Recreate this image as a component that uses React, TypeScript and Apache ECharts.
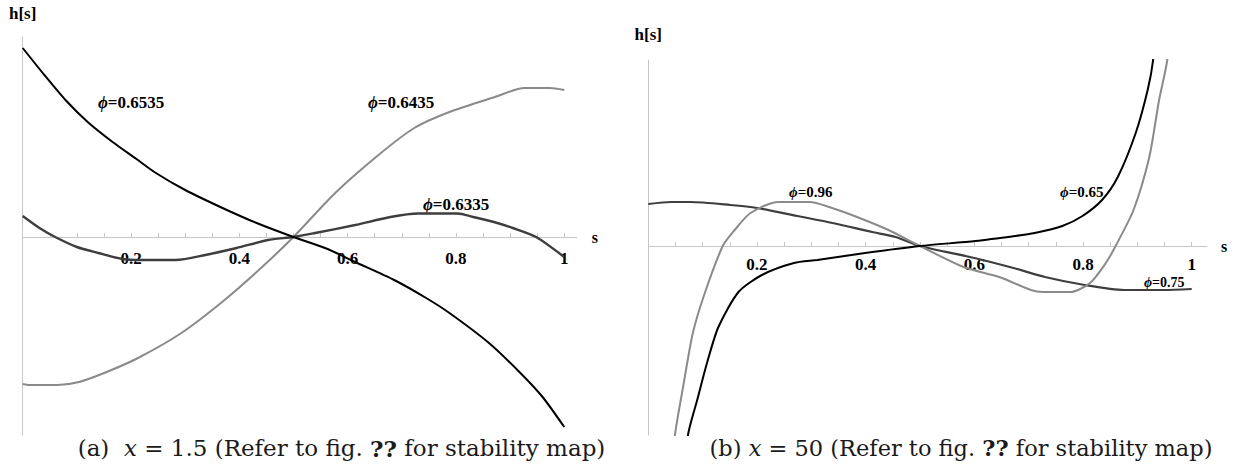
import React, { useEffect, useRef } from "react";
import * as echarts from "echarts";

// ---------- panel (a): x = 1.5 ----------
const sA1 = [0, 0.04, 0.079, 0.12, 0.166, 0.21, 0.246, 0.3, 0.373, 0.432, 0.5, 0.563, 0.614, 0.686, 0.745, 0.788, 0.861, 0.919, 0.96, 1.0];
const hA1 = [1.89, 1.62, 1.37, 1.15, 0.95, 0.78, 0.64, 0.47, 0.28, 0.14, 0, -0.12, -0.25, -0.43, -0.61, -0.76, -1.06, -1.36, -1.6, -1.9]; // phi = 0.6535

const sA2 = [0, 0.013, 0.064, 0.104, 0.155, 0.213, 0.293, 0.366, 0.432, 0.5, 0.577, 0.657, 0.723, 0.788, 0.872, 0.926, 0.974, 1.0];
const hA2 = [-1.47, -1.48, -1.48, -1.45, -1.35, -1.21, -0.96, -0.66, -0.35, 0, 0.44, 0.82, 1.09, 1.25, 1.4, 1.49, 1.49, 1.47]; // phi = 0.6435

const sA3 = [0, 0.031, 0.06, 0.1, 0.14, 0.184, 0.22, 0.282, 0.337, 0.395, 0.453, 0.5, 0.54, 0.614, 0.679, 0.73, 0.803, 0.832, 0.87, 0.905, 0.948, 1.0];
const hA3 = [0.21, 0.09, 0.0, -0.1, -0.16, -0.22, -0.23, -0.23, -0.18, -0.11, -0.03, 0, 0.04, 0.12, 0.2, 0.235, 0.235, 0.2, 0.15, 0.09, 0, -0.2]; // phi = 0.6335

// ---------- panel (b): x = 50 ----------
const sB1 = [0.065, 0.073, 0.09, 0.108, 0.129, 0.166, 0.209, 0.268, 0.311, 0.399, 0.5, 0.602, 0.675, 0.711, 0.762, 0.799, 0.835, 0.864, 0.897, 0.919, 0.929, 0.937];
const hB1 = [-2.4, -1.89, -1.54, -1.17, -0.81, -0.46, -0.29, -0.17, -0.14, -0.07, 0, 0.05, 0.1, 0.13, 0.2, 0.3, 0.46, 0.69, 1.13, 1.56, 1.86, 2.4]; // phi = 0.65

const sB2 = [0.04, 0.049, 0.064, 0.082, 0.104, 0.137, 0.159, 0.188, 0.239, 0.297, 0.333, 0.384, 0.442, 0.5, 0.58, 0.646, 0.704, 0.726, 0.777, 0.813, 0.842, 0.86, 0.893, 0.922, 0.94, 0.955, 0.962];
const hB2 = [-2.4, -1.89, -1.41, -0.87, -0.47, 0, 0.16, 0.33, 0.44, 0.44, 0.39, 0.29, 0.16, 0, -0.21, -0.31, -0.44, -0.46, -0.46, -0.37, -0.17, 0, 0.36, 0.89, 1.46, 1.86, 2.4]; // phi = 0.96

const sB3 = [0, 0.042, 0.078, 0.151, 0.2, 0.274, 0.339, 0.412, 0.455, 0.5, 0.6, 0.672, 0.73, 0.803, 0.875, 0.948, 1.0];
const hB3 = [0.42, 0.44, 0.44, 0.41, 0.38, 0.3, 0.23, 0.14, 0.09, 0, -0.12, -0.22, -0.31, -0.39, -0.44, -0.44, -0.43]; // phi = 0.75

// ---------- axes ----------
const xTickValues = [0, 0.05, 0.1, 0.15, 0.2, 0.25, 0.3, 0.35, 0.4, 0.45, 0.5, 0.55, 0.6, 0.65, 0.7, 0.75, 0.8, 0.85, 0.9, 0.95, 1];
const xLabelValues = [0.2, 0.4, 0.6, 0.8, 1];
const xLabelTexts = ["0.2", "0.4", "0.6", "0.8", "1"];

const BLACK = "#000000";
const LIGHT = "#8a8a8a";
const DARK = "#3e3e3e";
const AXIS = "#c6c6c6";
const CAPTION_INK = "#1a1a1a";
const BOLD_SERIF = "'Liberation Serif', 'Times New Roman', serif";
const CAPTION_FONT = "'DejaVu Serif', serif";

type Panel = { left: number; top: number; width: number; height: number; xMax: number; yMin: number; yMax: number };

const PANEL_A: Panel = { left: 22.7, top: 37, width: 554, height: 398, xMax: 1.023, yMin: -1.98, yMax: 2.0 };
const PANEL_B: Panel = { left: 648.3, top: 60, width: 558.6, height: 375, xMax: 1.028, yMin: -1.89, yMax: 1.86 };

const pairs = (s: number[], h: number[]) => s.map((v, i) => [v, h[i]]);

const lineSeries = (s: number[], h: number[], color: string, width: number, idx: number) => ({
  type: "line",
  xAxisIndex: idx,
  yAxisIndex: idx,
  data: pairs(s, h),
  symbol: "none",
  showSymbol: false,
  smooth: 0.25,
  clip: true,
  silent: true,
  lineStyle: { color, width },
});

// the s-axis sits on h = 0, so shift it up from the grid's bottom edge
const zeroOffset = (p: Panel) => -(p.height * (0 - p.yMin)) / (p.yMax - p.yMin);

const xAxisFor = (idx: number, p: Panel, labelMargin: number, nameGap: number) => ({
  type: "value",
  gridIndex: idx,
  min: 0,
  max: p.xMax,
  position: "bottom",
  offset: zeroOffset(p),
  axisLine: { show: true, onZero: false, lineStyle: { color: AXIS, width: 1 } },
  axisTick: { show: true, inside: true, length: 4, customValues: xTickValues, lineStyle: { color: AXIS } },
  axisLabel: {
    show: true,
    customValues: xLabelValues,
    margin: labelMargin,
    formatter: (v: number) => {
      const k = xLabelValues.findIndex((t) => Math.abs(t - v) < 1e-6);
      return k >= 0 ? xLabelTexts[k] : "";
    },
    fontFamily: BOLD_SERIF,
    fontWeight: "bold",
    fontSize: 17,
    color: BLACK,
  },
  splitLine: { show: false },
  name: "s",
  nameLocation: "end",
  nameGap,
  nameTextStyle: { fontFamily: BOLD_SERIF, fontWeight: "bold", fontSize: 16, color: BLACK },
});

const yAxisFor = (idx: number, p: Panel, nameGap: number) => ({
  type: "value",
  gridIndex: idx,
  min: p.yMin,
  max: p.yMax,
  axisLine: { show: true, onZero: false, lineStyle: { color: AXIS, width: 1 } },
  axisTick: { show: false },
  axisLabel: { show: false },
  splitLine: { show: false },
  name: "h[s]",
  nameLocation: "end",
  nameGap,
  nameTextStyle: { fontFamily: BOLD_SERIF, fontWeight: "bold", fontSize: 17, color: BLACK },
});

const phiLabel = (x: number, y: number, value: string, size: number) => ({
  type: "text",
  x,
  y,
  silent: true,
  style: {
    text: "{p|ϕ}=" + value,
    fill: BLACK,
    fontFamily: BOLD_SERIF,
    fontWeight: "bold",
    fontSize: size,
    textAlign: "left",
    textVerticalAlign: "middle",
    align: "left",
    verticalAlign: "middle",
    rich: {
      p: { fontFamily: BOLD_SERIF, fontStyle: "italic", fontWeight: "bold", fontSize: size, fill: BLACK },
    },
  },
});

const caption = (x: number, y: number, tag: string, gap: string, value: string, size: number) => ({
  type: "text",
  x,
  y,
  silent: true,
  style: {
    text: `(${tag})${gap}{i|x} = ${value} (Refer to fig. {b|??} for stability map)`,
    fill: CAPTION_INK,
    fontFamily: CAPTION_FONT,
    fontSize: size,
    textAlign: "center",
    textVerticalAlign: "middle",
    align: "center",
    verticalAlign: "middle",
    rich: {
      i: { fontFamily: CAPTION_FONT, fontStyle: "italic", fontSize: size, fill: CAPTION_INK },
      b: { fontFamily: CAPTION_FONT, fontWeight: "bold", fontSize: size, fill: CAPTION_INK },
    },
  },
});

export default function App() {
  const ref = useRef<HTMLDivElement>(null);

  useEffect(() => {
    if (!ref.current) return;
    const chart = echarts.init(ref.current, null, { renderer: "svg" });
    const grid = [PANEL_A, PANEL_B].map((p) => ({
      left: p.left,
      top: p.top,
      width: p.width,
      height: p.height,
      containLabel: false,
    }));
    chart.setOption({
      animation: false,
      backgroundColor: "#ffffff",
      grid,
      xAxis: [xAxisFor(0, PANEL_A, 13, 15), xAxisFor(1, PANEL_B, 10, 14)],
      yAxis: [yAxisFor(0, PANEL_A, 15), yAxisFor(1, PANEL_B, 17)],
      series: [
        lineSeries(sA2, hA2, LIGHT, 2, 0),
        lineSeries(sA3, hA3, DARK, 2.4, 0),
        lineSeries(sA1, hA1, BLACK, 2, 0),
        lineSeries(sB3, hB3, DARK, 2.2, 1),
        lineSeries(sB2, hB2, LIGHT, 2, 1),
        lineSeries(sB1, hB1, BLACK, 2, 1),
      ],
      graphic: [
        phiLabel(98, 102, "0.6535", 17),
        phiLabel(368, 102, "0.6435", 17),
        phiLabel(423, 204, "0.6335", 17),
        phiLabel(789, 192, "0.96", 15),
        phiLabel(1060, 192, "0.65", 15),
        phiLabel(1144, 282, "0.75", 14),
        caption(341.5, 448, "a", "  ", "1.5", 23),
        caption(961, 448, "b", " ", "50", 22.5),
      ],
    });
    return () => chart.dispose();
  }, []);

  return (
    <div
      ref={ref}
      style={{ position: "absolute", left: 0, top: 0, width: 1239, height: 476 }}
    />
  );
}
